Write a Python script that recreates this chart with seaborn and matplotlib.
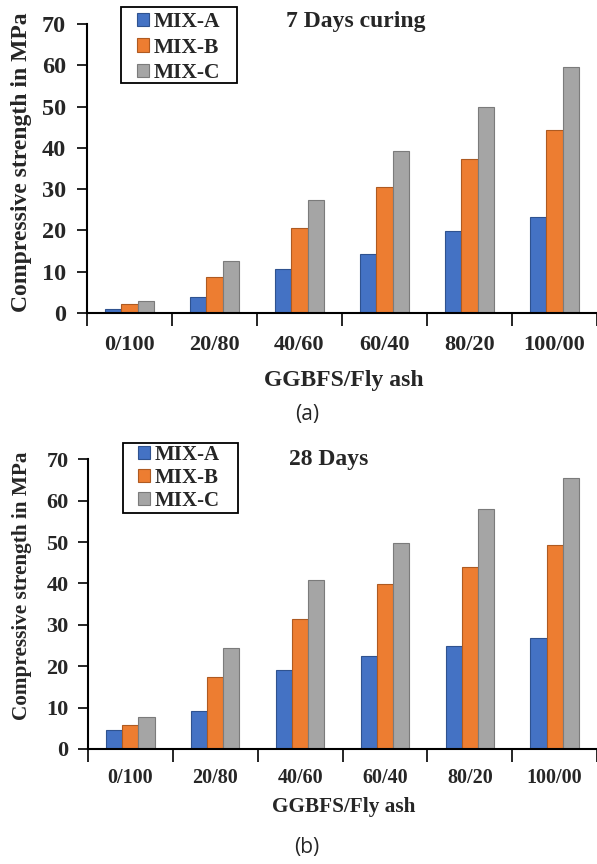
import numpy as np
import pandas as pd
import matplotlib
matplotlib.use("Agg")
import matplotlib.pyplot as plt
from matplotlib.patches import Rectangle
import seaborn as sns

# ---- data ----
ratios = ["0/100", "20/80", "40/60", "60/40", "80/20", "100/00"]
mixes = ["MIX-A", "MIX-B", "MIX-C"]
d7_mix_a = [1.0, 3.9, 10.6, 14.3, 19.9, 23.2]
d7_mix_b = [2.1, 8.6, 20.7, 30.5, 37.2, 44.4]
d7_mix_c = [2.9, 12.5, 27.4, 39.2, 49.9, 59.5]
d28_mix_a = [4.7, 9.3, 19.1, 22.4, 24.8, 26.8]
d28_mix_b = [5.9, 17.4, 31.3, 39.9, 44.0, 49.4]
d28_mix_c = [7.8, 24.4, 40.9, 49.8, 58.0, 65.6]
yticks = [0, 10, 20, 30, 40, 50, 60, 70]

colors = ["#4472C4", "#ED7D31", "#A5A5A5"]
edges = ["#2F528F", "#AE5A21", "#7B7B7B"]


def long_df(a, b, c):
    rows = []
    for m, vals in zip(mixes, [a, b, c]):
        for r, v in zip(ratios, vals):
            rows.append({"ratio": r, "mix": m, "strength": v})
    return pd.DataFrame(rows)


sns.set_theme(style="white")
plt.rcParams["font.family"] = ["Liberation Serif", "DejaVu Serif"]

W, H = 597, 864
fig = plt.figure(figsize=(W / 100, H / 100), dpi=100)


def make_panel(df, left_px, y0_px, y70_px, step_px, title, title_xy, xtick_fs, ytick_fs,
               lab_fs, leg_fs, leg_box, leg_anchor, leg_space, ytick_pad, xtick_pad,
               ylab_xy, xlab_y, sub, sub_y, title_fs):
    ax = fig.add_axes([left_px / W, (H - y0_px) / H, (W - left_px) / W, (y0_px - y70_px) / H])
    sns.barplot(data=df, x="ratio", y="strength", hue="mix", order=ratios, hue_order=mixes,
                palette=colors, width=0.57, ax=ax, saturation=1, legend=False)
    for cont, ec in zip(ax.containers, edges):
        for p in cont:
            p.set_edgecolor(ec)
            p.set_linewidth(0.8)
    ax.set_xlim(-0.5, -0.5 + (W - left_px) / step_px)
    ax.set_ylim(0, 70)
    sns.despine(ax=ax, top=True, right=True)
    for s in ["left", "bottom"]:
        ax.spines[s].set_color("black")
        ax.spines[s].set_linewidth(1.5)
    ax.set_yticks(yticks)
    ax.set_yticklabels([str(t) for t in yticks], fontsize=ytick_fs, fontweight="bold")
    ax.tick_params(axis="y", left=True, direction="out", length=7, width=1.2, color="black",
                   pad=ytick_pad)
    ax.set_xticks(np.arange(-0.5, len(ratios) - 0.4, 1.0))
    ax.set_xticklabels([])
    ax.set_xticks(np.arange(len(ratios)), minor=True)
    ax.set_xticklabels(ratios, minor=True, fontsize=xtick_fs, fontweight="bold")
    ax.tick_params(axis="x", which="major", bottom=True, direction="out", length=9,
                   width=1.2, color="black")
    ax.tick_params(axis="x", which="minor", bottom=True, length=0, pad=xtick_pad)
    ax.set_xlabel("")
    ax.set_ylabel("")
    ax.grid(False)

    # legend frame drawn separately (wide side padding as in the reference)
    x0, y0, x1, y1 = leg_box
    ax.add_patch(Rectangle((x0 / W, 1 - y1 / H), (x1 - x0) / W, (y1 - y0) / H,
                           transform=fig.transFigure, facecolor="white",
                           edgecolor="black", linewidth=1.3, zorder=4, clip_on=False))
    handles = [plt.Rectangle((0, 0), 1, 1, facecolor=c, edgecolor=e, linewidth=0.8)
               for c, e in zip(colors, edges)]
    leg = ax.legend(handles, mixes, loc="upper left",
                    bbox_to_anchor=(leg_anchor[0] / W, 1 - leg_anchor[1] / H),
                    bbox_transform=fig.transFigure, frameon=False,
                    prop={"family": "Liberation Serif", "weight": "bold", "size": leg_fs},
                    handlelength=0.58, handleheight=0.58, handletextpad=0.2,
                    labelspacing=leg_space, borderpad=0, borderaxespad=0)
    leg.set_zorder(6)

    fig.text(title_xy[0] / W, 1 - title_xy[1] / H, title, ha="center", va="center",
             fontsize=title_fs, fontweight="bold")
    fig.text(ylab_xy[0] / W, 1 - ylab_xy[1] / H, "Compressive strength in MPa",
             rotation=90, ha="center", va="center", fontsize=lab_fs, fontweight="bold")
    fig.text(344 / W, 1 - xlab_y / H, "GGBFS/Fly ash", ha="center", va="center",
             fontsize=lab_fs, fontweight="bold")
    fig.text(307 / W, 1 - sub_y / H, sub, ha="center", va="center", fontsize=15,
             family=["Open Sans", "DejaVu Sans"])
    return ax


make_panel(long_df(d7_mix_a, d7_mix_b, d7_mix_c), 87, 313, 24, 85.7,
           "7 Days curing", (356, 22), 16, 17.5, 17, 15.5, (121, 7, 237, 83), (137, 12),
           0.26, 8, 16, (22, 162), 380, "(a)", 414, 17)
make_panel(long_df(d28_mix_a, d28_mix_b, d28_mix_c), 88, 749, 459.3, 86.1,
           "28 Days", (329, 459), 14.5, 16, 15.3, 15, (123, 443, 238, 513), (138, 445),
           0.15, 7, 14, (22, 586), 807, "(b)", 847, 17)

fig.savefig("out.png", dpi=100, facecolor="white")
